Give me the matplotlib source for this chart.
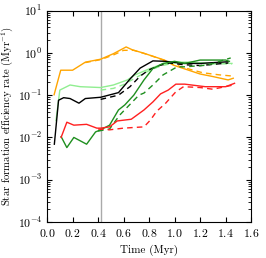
import numpy as np
import matplotlib
matplotlib.use("Agg")
import matplotlib.pyplot as plt

plt.rcParams['font.family'] = 'cmr10'
plt.rcParams['mathtext.fontset'] = 'cm'
plt.rcParams['axes.formatter.use_mathtext'] = True
plt.rcParams['font.size'] = 8

# values (time in Myr, rate in Myr^-1 as log10)
orange_t = [0.055, 0.107, 0.2, 0.3, 0.42, 0.52, 0.62, 0.67, 0.75, 0.83, 0.92, 0.99, 1.07, 1.2, 1.3, 1.42, 1.46]
orange_s = [-0.99, -0.41, -0.41, -0.22, -0.15, -0.02, 0.14, 0.07, 0.0, -0.08, -0.17, -0.29, -0.37, -0.5, -0.56, -0.64, -0.6]
orange_dt = [0.3, 0.42, 0.52, 0.6, 0.68, 0.8, 0.92, 1.05, 1.22, 1.35, 1.46]
orange_d = [-0.23, -0.16, -0.05, 0.06, 0.06, -0.05, -0.18, -0.33, -0.47, -0.52, -0.55]

lgreen_t = [0.07, 0.1, 0.18, 0.26, 0.34, 0.42, 0.52, 0.63, 0.69, 0.8, 0.9, 1.0, 1.1, 1.25, 1.45]
lgreen_s = [-1.6, -0.88, -0.76, -0.8, -0.81, -0.82, -0.76, -0.64, -0.52, -0.38, -0.27, -0.22, -0.22, -0.24, -0.25]
lgreen_dt = [0.42, 0.52, 0.6, 0.7, 0.8, 0.9, 1.0, 1.1, 1.25, 1.45]
lgreen_d = [-0.88, -0.84, -0.75, -0.58, -0.42, -0.3, -0.24, -0.24, -0.26, -0.26]

black_t = [0.057, 0.09, 0.13, 0.18, 0.25, 0.3, 0.42, 0.56, 0.65, 0.73, 0.83, 0.93, 1.07, 1.2, 1.42]
black_s = [-2.16, -1.12, -1.06, -1.08, -1.19, -1.08, -1.05, -0.94, -0.62, -0.36, -0.19, -0.2, -0.25, -0.25, -0.21]
black_dt = [0.42, 0.56, 0.65, 0.73, 0.8, 0.88, 0.96, 1.07, 1.2, 1.42]
black_d = [-1.1, -1.0, -0.8, -0.55, -0.4, -0.3, -0.24, -0.28, -0.3, -0.24]

dgreen_t = [0.11, 0.155, 0.21, 0.31, 0.38, 0.42, 0.49, 0.56, 0.61, 0.68, 0.76, 0.83, 0.91, 1.0, 1.08, 1.2, 1.4, 1.43]
dgreen_s = [-1.98, -2.24, -2.0, -2.16, -1.87, -1.82, -1.71, -1.35, -1.23, -1.0, -0.64, -0.37, -0.25, -0.2, -0.25, -0.17, -0.17, -0.2]
dgreen_dt = [0.4, 0.49, 0.57, 0.64, 0.72, 0.76, 0.83, 0.91, 1.02, 1.08, 1.26, 1.44]
dgreen_d = [-1.85, -1.8, -1.47, -1.25, -1.0, -0.95, -0.76, -0.52, -0.33, -0.33, -0.29, -0.12]

red_t = [0.11, 0.155, 0.21, 0.31, 0.39, 0.42, 0.49, 0.55, 0.66, 0.76, 0.83, 0.89, 0.95, 1.01, 1.08, 1.24, 1.4, 1.47]
red_s = [-2.0, -1.64, -1.71, -1.69, -1.78, -1.78, -1.75, -1.61, -1.57, -1.35, -1.16, -0.97, -0.88, -0.74, -0.74, -0.8, -0.8, -0.72]
red_dt = [0.4, 0.49, 0.6, 0.76, 0.81, 0.86, 0.93, 1.01, 1.07, 1.2, 1.3, 1.46]
red_d = [-1.8, -1.82, -1.78, -1.75, -1.59, -1.38, -1.19, -0.92, -0.8, -0.82, -0.86, -0.76]

t_mark = 0.42

fig = plt.figure(figsize=(2.66, 2.58), dpi=100)
ax = fig.add_axes([0.177, 0.1395, 0.767, 0.8195])

ax.axvline(t_mark, color='#aaaaaa', lw=1)

series = [
    (orange_t, orange_s, orange_dt, orange_d, '#ffa500'),
    (lgreen_t, lgreen_s, lgreen_dt, lgreen_d, '#90ee90'),
    (black_t, black_s, black_dt, black_d, 'k'),
    (dgreen_t, dgreen_s, dgreen_dt, dgreen_d, '#1f8f1f'),
    (red_t, red_s, red_dt, red_d, '#ff2020'),
]
for t, s, td, d, c in series:
    ax.plot(t, 10 ** np.array(s), color=c, lw=1)
    ax.plot(td, 10 ** np.array(d), color=c, lw=1, ls='--', dashes=(4, 3))

ax.set_yscale('log')
ax.set_xlim(0, 1.6)
ax.set_ylim(1e-4, 1e1)
ax.set_xticks(np.arange(0, 1.61, 0.2))
ax.tick_params(which='both', direction='in', top=True, right=True, labelsize=8.5)
ax.set_xlabel('Time (Myr)', fontsize=8)
ax.set_ylabel(r'Star formation efficiency rate (Myr$^{-1}$)', fontsize=7.7)
ax.yaxis.set_label_coords(-0.15, 0.5)

fig.savefig('out.png', dpi=100)
